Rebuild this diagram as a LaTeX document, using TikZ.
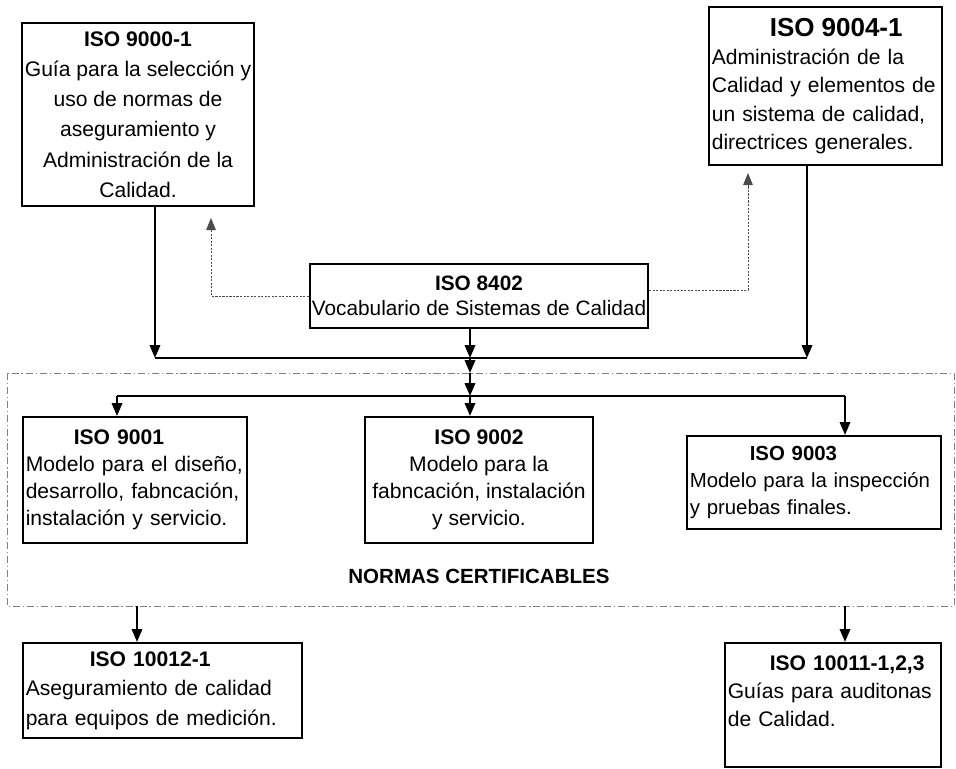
\documentclass[tikz,border=0pt]{standalone}
\usepackage{fontspec}
\setmainfont{Liberation Sans}
\usetikzlibrary{arrows.meta, positioning, calc}

\begin{document}
\begin{tikzpicture}[
    x=0.025cm, y=-0.025cm,
    font=\fontsize{15}{20}\selectfont,
    % Estilo base para las cajas de normas
    normbox/.style={
        draw,
        line width=1.5pt,
        inner xsep=2pt,
        inner ysep=0pt
    },
    % Caja con texto a la izquierda
    leftbox/.style={normbox, align=left},
    % Caja con texto centrado
    centerbox/.style={normbox, align=center},
    % Estilo para flechas
    arrow/.style={
        -{Triangle[length=3.2mm, width=2.6mm]},
        line width=1.4pt
    },
    % Flechas punteadas de referencia
    guide/.style={
        -{Triangle[length=3mm, width=2.4mm]},
        black!70,
        line width=0.6pt,
        dash pattern=on 1.5pt off 1pt
    },
    bus/.style={line width=0.9pt},
    % Marco de normas certificables
    frame/.style={
        gray,
        line width=0.6pt,
        dash pattern=on 5pt off 2pt on 1pt off 2pt
    }
]
    \useasboundingbox (0,0) rectangle (956,769);

    % --- 1. Normas guia (arriba) ---

    \node[centerbox, minimum width=5.65cm, minimum height=4.575cm, font=\fontsize{15}{21.5}\selectfont] (iso_9000) at (138,114.5) {
        \textbf{ISO 9000-1}\\
        Guía para la selección y\\
        uso de normas de\\
        aseguramiento y\\
        Administración de la\\
        Calidad.
    };

    \node[leftbox, text width=5.685cm, minimum height=3.95cm] (iso_9004) at (825.5,86) {
        \hspace*{1.45cm}{\fontsize{18.5}{20}\selectfont\textbf{ISO 9004-1}}\\
        Administración de la\\
        Calidad y elementos de\\
        un sistema de calidad,\\
        directrices generales.
    };

    % Vocabulario (centro)
    \node[centerbox, minimum width=8.45cm, minimum height=1.6cm, inner xsep=0pt, font=\fontsize{14.8}{18}\selectfont] (iso_8402) at (479,296) {
        \textbf{ISO 8402}\\
        Vocabulario de Sistemas de Calidad
    };

    % --- 2. Normas certificables ---

    \node[leftbox, text width=5.46cm, minimum height=3.15cm, font=\fontsize{15}{19.2}\selectfont] (iso_9001) at (135,480) {
        \hspace*{1.2cm}\textbf{ISO 9001}\\
        Modelo para el diseño,\\
        desarrollo, fabncación,\\
        instalación y servicio.
    };

    \node[centerbox, minimum width=5.7cm, minimum height=3.15cm, font=\fontsize{15}{19.2}\selectfont] (iso_9002) at (479,480) {
        \textbf{ISO 9002}\\
        Modelo para la\\
        fabncación, instalación\\
        y servicio.
    };

    \node[leftbox, text width=6.21cm, minimum height=2.325cm, font=\fontsize{14.5}{19.5}\selectfont] (iso_9003) at (814,482.5) {
        \hspace*{1.5cm}\textbf{ISO 9003}\\
        Modelo para la inspección\\
        y pruebas finales.
    };

    \node[font=\fontsize{14.6}{18}\selectfont\bfseries, below=0.51cm of iso_9002] (norm_label) {NORMAS CERTIFICABLES};

    % --- 3. Normas de apoyo (abajo) ---

    \node[leftbox, text width=6.835cm, minimum height=2.375cm, font=\fontsize{15}{21}\selectfont] (iso_10012) at (162.5,690.5) {
        \hspace*{1.6cm}\textbf{ISO 10012-1}\\
        Aseguramiento de calidad\\
        para equipos de medición.
    };

    \node[leftbox, text width=5.26cm, minimum height=3.1cm] (iso_10011) at (833,705) {
        \hspace*{1.05cm}\textbf{ISO 10011-1,2,3}\\
        Guías para auditonas\\
        de Calidad.\\
        \mbox{}
    };

    % --- 4. Conexiones ---

    % Bus superior
    \coordinate (bus_left) at (155,358);
    \coordinate (bus_mid) at (470,358);
    \coordinate (bus_right) at (807,358);
    \draw[arrow] (iso_9000.south -| bus_left) -- (bus_left);
    \draw[arrow] (iso_9004.south -| bus_right) -- (bus_right);
    \draw[bus] (bus_left) -- (bus_right);

    % Marco punteado
    \coordinate (frame_nw) at (7,373);
    \coordinate (frame_se) at (954,606);
    \draw[frame] (frame_nw) rectangle (frame_se);

    % Eje central y distribucion
    \coordinate (frame_top) at (470,373);
    \coordinate (dist_left) at (117,396);
    \coordinate (dist_mid) at (470,396);
    \coordinate (dist_right) at (845,396);
    \draw[arrow] (iso_8402.south -| bus_mid) -- (bus_mid);
    \draw[arrow] (bus_mid) -- (frame_top);
    \draw[arrow] (frame_top) -- (dist_mid);
    \draw[arrow] (dist_mid) -- (iso_9002.north -| dist_mid);
    \draw[bus] (dist_left) -- (dist_right);
    \draw[arrow] (dist_left) -- (iso_9001.north -| dist_left);
    \draw[arrow] (dist_right) -- (iso_9003.north -| dist_right);

    % Referencias punteadas
    \coordinate (tip_left) at (211,218);
    \coordinate (tip_right) at (748,173);
    \draw[guide] (iso_8402.west) -| (tip_left);
    \draw[guide] ([yshift=0.15cm]iso_8402.east) -| (tip_right);

    % Salidas hacia normas de apoyo
    \coordinate (out_left) at (137,606);
    \coordinate (out_right) at (845,606);
    \draw[arrow] (out_left) -- (iso_10012.north -| out_left);
    \draw[arrow] (out_right) -- (iso_10011.north -| out_right);

\end{tikzpicture}
\end{document}
